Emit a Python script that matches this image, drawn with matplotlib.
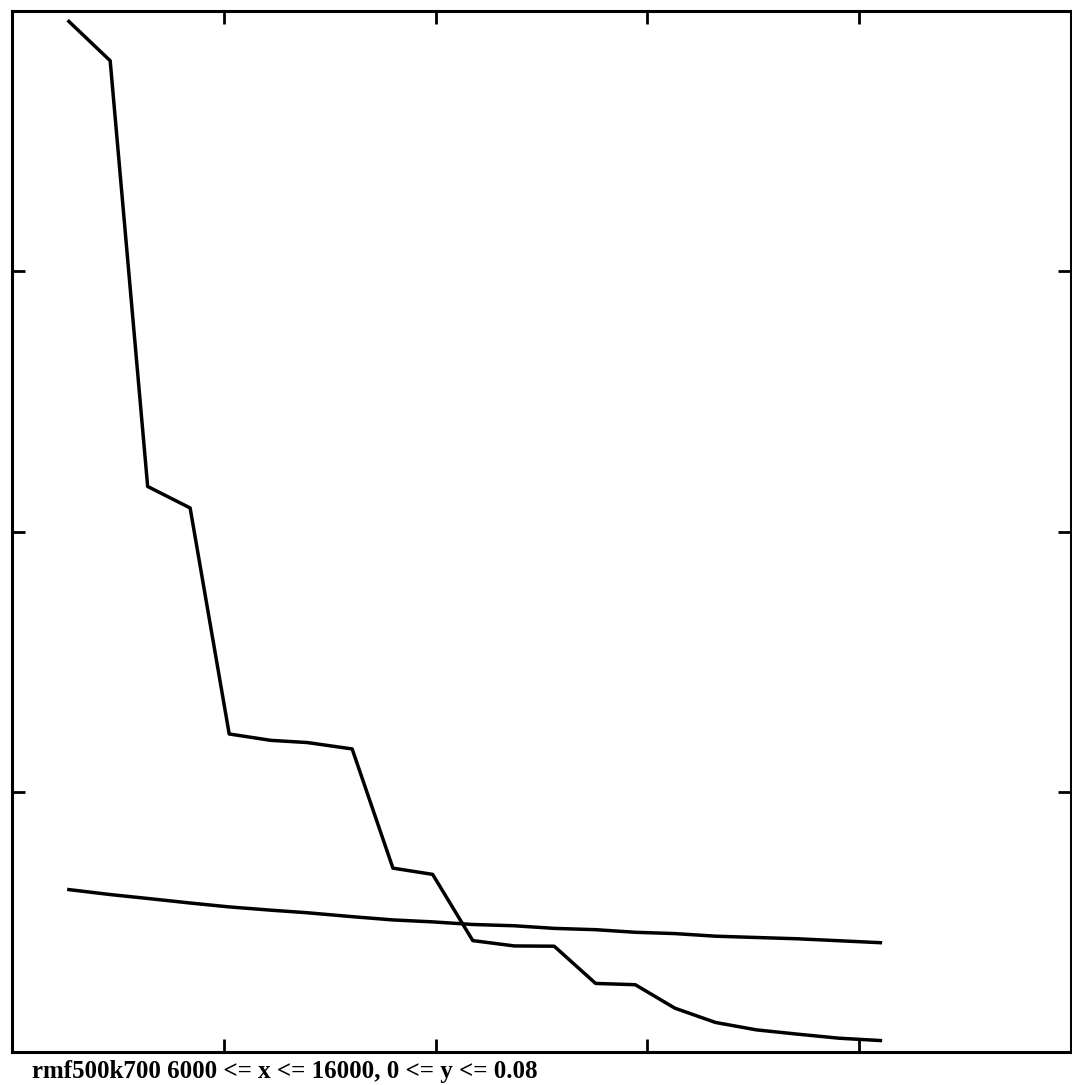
import matplotlib
matplotlib.use("Agg")
import matplotlib.pyplot as plt

# values
x_vals = [6537, 6927, 7281, 7682, 8051, 8444, 8790, 9212, 9597, 9972, 10351,
          10745, 11120, 11511, 11886, 12259, 12643, 13030, 13420, 13810, 14200]
y_steep = [0.0792, 0.07618, 0.04346, 0.04181, 0.02444, 0.02395, 0.02378, 0.02329,
           0.01413, 0.01365, 0.00856, 0.00815, 0.00813, 0.00527, 0.00517,
           0.00337, 0.00227, 0.0017, 0.00137, 0.00106, 0.00088]
y_flat = [0.01248, 0.0121, 0.0118, 0.01145, 0.01115, 0.0109, 0.0107, 0.0104,
          0.01015, 0.0100, 0.0098, 0.0097, 0.0095, 0.0094, 0.0092, 0.0091,
          0.0089, 0.0088, 0.0087, 0.00855, 0.0084]

x_ticks = [8000, 10000, 12000, 14000]
y_ticks = [0.02, 0.04, 0.06]
caption = "rmf500k700 6000 <= x <= 16000, 0 <= y <= 0.08"

W, H = 1072, 1085
fig = plt.figure(figsize=(W / 100, H / 100), dpi=100)
ax = fig.add_axes([12 / W, 1 - 1052 / H, (1071 - 12) / W, (1052 - 11) / H])

ax.plot(x_vals, y_steep, color="black", lw=2.5)
ax.plot(x_vals, y_flat, color="black", lw=2.5)

ax.set_xlim(6000, 16000)
ax.set_ylim(0, 0.08)
ax.set_xticks(x_ticks)
ax.set_yticks(y_ticks)
ax.tick_params(direction="in", length=9.5, width=2.0, color="black",
               top=True, right=True, labelbottom=False, labelleft=False)
for sp in ax.spines.values():
    sp.set_linewidth(2.2)

fig.text(32 / W, 1 - 1078 / H, caption, fontsize=18, fontweight="bold",
         family="Liberation Serif", va="baseline", ha="left")

fig.savefig("out.png", dpi=100, facecolor="white")
